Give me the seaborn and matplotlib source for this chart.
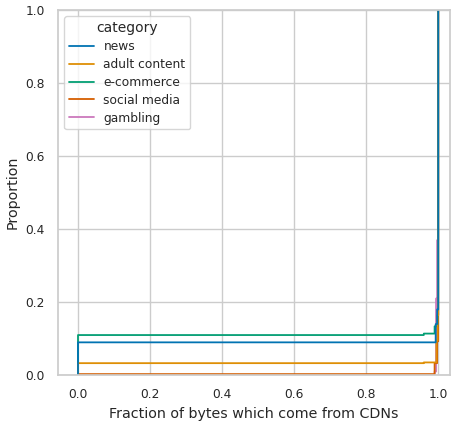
import numpy as np
import pandas as pd
import matplotlib.pyplot as plt
import seaborn as sns

sns.set_theme(style="whitegrid", font_scale=0.8, rc={"axes.labelsize": 10.3})

# fraction of bytes from CDNs, as (value, count) per category
categories = ["news", "adult content", "e-commerce", "social media", "gambling"]

news_vals = [0.0, 0.993, 0.997, 1.0]
news_counts = [90, 50, 40, 820]

adult_vals = [0.0, 0.96, 0.995, 0.998, 1.0]
adult_counts = [33, 2, 60, 70, 835]

ecom_vals = [0.0, 0.96, 0.99, 0.998, 1.0]
ecom_counts = [110, 4, 20, 30, 836]

social_vals = [0.0, 0.99, 0.997, 1.0]
social_counts = [3, 30, 60, 907]

gambling_vals = [0.99, 0.994, 0.997, 1.0]
gambling_counts = [10, 200, 160, 630]

vals = [news_vals, adult_vals, ecom_vals, social_vals, gambling_vals]
counts = [news_counts, adult_counts, ecom_counts, social_counts, gambling_counts]

rows = []
for cat, v, c in zip(categories, vals, counts):
    for x in np.repeat(v, c):
        rows.append((cat, x))
df = pd.DataFrame(rows, columns=["category", "cdn_frac"])

fig, ax = plt.subplots(figsize=(4.51, 4.23), dpi=100)
sns.ecdfplot(data=df, x="cdn_frac", hue="category", hue_order=categories,
             palette="colorblind", linewidth=1.3, ax=ax)
ax.set_xlabel("Fraction of bytes which come from CDNs")
ax.set_xlim(-0.055, 1.033)
ax.set_ylim(0, 1)
sns.move_legend(ax, "upper left", labelspacing=0.4, title_fontsize=10)

fig.subplots_adjust(left=0.129, right=0.998, top=0.976, bottom=0.113)
fig.savefig("out.png")
